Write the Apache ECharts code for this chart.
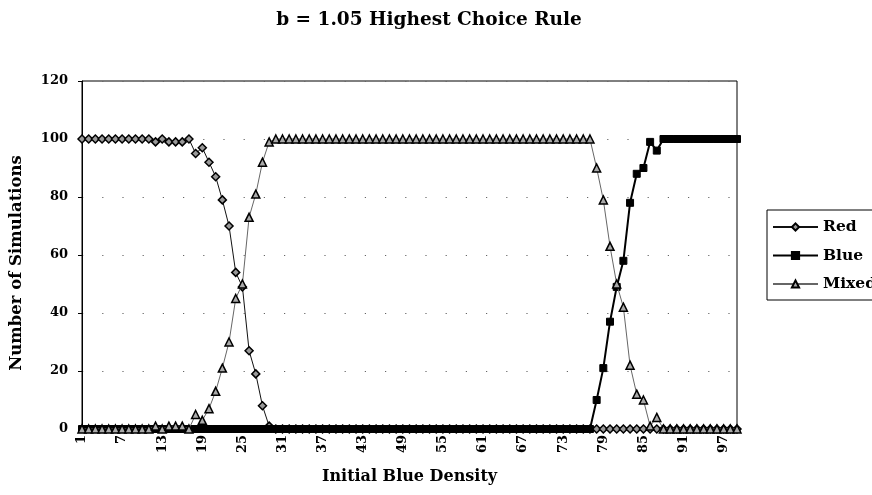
<!DOCTYPE html>
<html>
<head>
<meta charset="utf-8">
<script src="https://cdn.jsdelivr.net/npm/echarts@6/dist/echarts.min.js"></script>
<style>html,body{margin:0;padding:0;background:#fff}#c{width:872px;height:495px}</style>
</head>
<body>
<div id="c"></div>
<script>
var categories = ["1","2","3","4","5","6","7","8","9","10","11","12","13","14","15","16","17","18","19","20",
"21","22","23","24","25","26","27","28","29","30","31","32","33","34","35","36","37","38","39","40",
"41","42","43","44","45","46","47","48","49","50","51","52","53","54","55","56","57","58","59","60",
"61","62","63","64","65","66","67","68","69","70","71","72","73","74","75","76","77","78","79","80",
"81","82","83","84","85","86","87","88","89","90","91","92","93","94","95","96","97","98","99"];

var redValues = [100,100,100,100,100,100,100,100,100,100,100,
 99,100,99,99,99,100,
 95,97,92,87,79,70,54,49,27,19,8,1,
 0,0,0,0,0,0,0,0,0,0,
 0,0,0,0,0,0,0,0,0,0,
 0,0,0,0,0,0,0,0,0,0,
 0,0,0,0,0,0,0,0,0,0,
 0,0,0,0,0,0,0,0,0,0,
 0,0,0,0,0,0,0,0,0,0,
 0,0,0,0,0,0,0,0,0,0];

var blueValues = [0,0,0,0,0,0,0,0,0,0,
 0,0,0,0,0,0,0,0,0,0,
 0,0,0,0,0,0,0,0,0,0,
 0,0,0,0,0,0,0,0,0,0,
 0,0,0,0,0,0,0,0,0,0,
 0,0,0,0,0,0,0,0,0,0,
 0,0,0,0,0,0,0,0,0,0,
 0,0,0,0,0,0,0,
 10,21,37,49,58,78,88,90,99,96,
 100,100,100,100,100,100,100,100,100,100,100,100];

var mixedValues = [0,0,0,0,0,0,0,0,0,0,0,
 1,0,1,1,1,0,
 5,3,7,13,21,30,45,50,73,81,92,99,
 100,100,100,100,100,100,100,100,100,100,
 100,100,100,100,100,100,100,100,100,100,
 100,100,100,100,100,100,100,100,100,100,
 100,100,100,100,100,100,100,100,100,100,
 100,100,100,100,100,100,100,100,
 90,79,63,50,42,22,12,10,1,4,
 0,0,0,0,0,0,0,0,0,0,0,0];

var yTicks = {min: 0, max: 120, step: 20};

var serif = "DejaVu Serif";
var chart = echarts.init(document.getElementById('c'), null, {renderer: 'canvas'});
chart.setOption({
  animation: false,
  backgroundColor: '#fff',
  title: {
    text: 'b = 1.05 Highest Choice Rule',
    left: 424, top: 6, textAlign: 'center',
    textStyle: {fontFamily: serif, fontWeight: 'bold', fontSize: 18.5, color: '#000'}
  },
  legend: {
    orient: 'vertical', left: 767, top: 210,
    itemWidth: 45, itemHeight: 9, itemGap: 12.5,
    padding: [9, 60, 8, 5],
    borderColor: '#000', borderWidth: 1,
    textStyle: {fontFamily: serif, fontWeight: 'bold', fontSize: 15.5, color: '#000'},
    data: ['Red', 'Blue', 'Mixed']
  },
  grid: {left: 82, right: 135, top: 81, bottom: 66, show: true, borderColor: '#000', borderWidth: 1, backgroundColor: 'transparent'},
  xAxis: {
    type: 'category', data: categories, boundaryGap: false,
    name: 'Initial Blue Density', nameLocation: 'middle', nameGap: 40,
    nameTextStyle: {fontFamily: serif, fontWeight: 'bold', fontSize: 16, color: '#000'},
    axisLine: {lineStyle: {color: '#000', width: 1}},
    axisTick: {interval: 5, length: 4, lineStyle: {color: '#000'}},
    axisLabel: {interval: 5, rotate: 90, margin: 6, fontFamily: serif, fontWeight: 'bold', fontSize: 13, color: '#000'},
    splitLine: {show: false}
  },
  yAxis: {
    type: 'value', min: yTicks.min, max: yTicks.max, interval: yTicks.step,
    name: 'Number of Simulations', nameLocation: 'middle', nameGap: 57,
    nameTextStyle: {fontFamily: serif, fontWeight: 'bold', fontSize: 16.5, color: '#000', padding: [0, 16, 0, 0]},
    axisLine: {show: true, lineStyle: {color: '#000', width: 1}},
    axisTick: {show: true, length: 4, lineStyle: {color: '#000'}},
    axisLabel: {margin: 14, fontFamily: serif, fontWeight: 'bold', fontSize: 13, color: '#000'},
    splitLine: {show: true, lineStyle: {color: '#666', width: 1.2, type: [1.2, 19]}}
  },
  series: [
    {
      name: 'Red', type: 'line', data: redValues,
      symbol: 'diamond', symbolSize: 8, showAllSymbol: true,
      lineStyle: {color: '#111', width: 1},
      itemStyle: {color: '#999', borderColor: '#000', borderWidth: 1.5},
      z: 2
    },
    {
      name: 'Blue', type: 'line', data: blueValues,
      symbol: 'rect', symbolSize: 7, showAllSymbol: true,
      lineStyle: {color: '#000', width: 2},
      itemStyle: {color: '#000', borderColor: '#000', borderWidth: 1},
      z: 3
    },
    {
      name: 'Mixed', type: 'line', data: mixedValues,
      symbol: 'triangle', symbolSize: 8, showAllSymbol: true,
      lineStyle: {color: '#666', width: 1},
      itemStyle: {color: '#aaa', borderColor: '#000', borderWidth: 1.5},
      z: 4
    }
  ]
});
</script>
</body>
</html>
